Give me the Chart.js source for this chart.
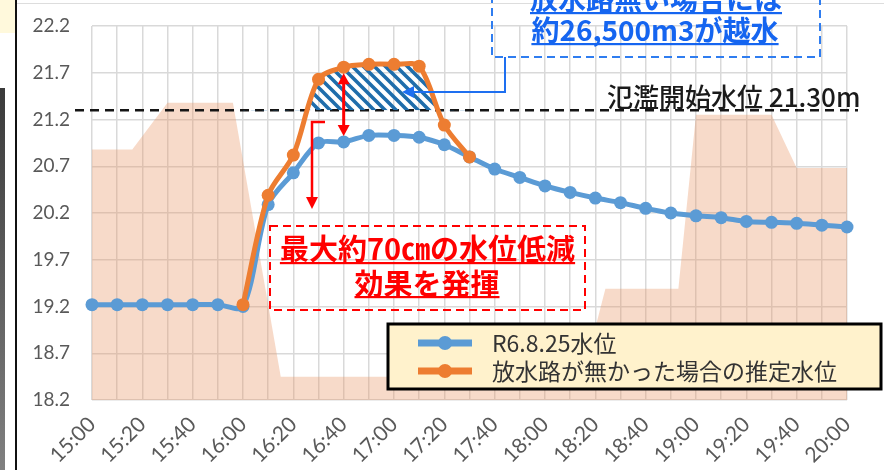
<!DOCTYPE html>
<html><head><meta charset="utf-8">
<script src="https://cdn.jsdelivr.net/npm/chart.js@4.4.1/dist/chart.umd.min.js"></script>
<style>
html,body{margin:0;padding:0;background:#fff;overflow:hidden}
#wrap{position:relative;width:884px;height:470px}
canvas{position:absolute;left:0;top:0}
.deco{position:absolute}
</style></head><body>
<div id="wrap">
<div class="deco" style="left:0;top:0;width:15px;height:33px;background:#FFF9DC"></div>
<div class="deco" style="left:0;top:88px;width:5px;height:382px;background:linear-gradient(#3a3a3a,#808080)"></div>
<div class="deco" style="left:15px;top:0;width:2px;height:470px;background:#111"></div>
<div class="deco" style="left:17px;top:3px;width:867px;height:1px;background:#DDD"></div>
<canvas id="c" width="884" height="470"></canvas>
</div>
<script>
// ---- data ----
const categories = ["15:00","15:10","15:20","15:30","15:40","15:50","16:00","16:10","16:20","16:30","16:40","16:50","17:00","17:10","17:20","17:30","17:40","17:50","18:00","18:10","18:20","18:30","18:40","18:50","19:00","19:10","19:20","19:30","19:40","19:50","20:00"];
const observedLevel = [19.22,19.22,19.22,19.22,19.22,19.22,19.20,20.29,20.63,20.95,20.96,21.03,21.03,21.01,20.93,20.80,20.67,20.58,20.49,20.42,20.36,20.31,20.25,20.20,20.17,20.15,20.11,20.10,20.09,20.07,20.05];
const estimatedLevel = [null,null,null,null,null,null,19.22,20.39,20.82,21.63,21.76,21.79,21.79,21.77,21.14,20.80,null,null,null,null,null,null,null,null,null,null,null,null,null,null,null];
const bgMinutes = [0,16,30,56,75,195,204,233,240,270,280,300];   // minutes after 15:00
const bgValues  = [20.88,20.88,21.38,21.38,18.45,18.45,19.39,19.39,21.25,21.25,20.68,20.68];
const yTicks = [18.2,18.7,19.2,19.7,20.2,20.7,21.2,21.7,22.2];
const floodLevel = 21.30;
const seriesLabels = ["R6.8.25水位","放水路が無かった場合の推定水位"];
const floodText = "氾濫開始水位 21.30m";
const blueNote = ["放水路無い場合には","約26,500m3が越水"];
const redNote = ["最大約70㎝の水位低減","効果を発揮"];

const toMin = s => { const p = s.split(':').map(Number); return p[0]*60 + p[1] - 900; };
const catMin = categories.map(toMin);
const pts = arr => arr.map((v,i)=>({x:catMin[i], y:v}));

const BLUE = '#5B9BD5', ORANGE = '#ED7D31';
const CJK = '"Noto Sans CJK JP", "Noto Sans", sans-serif';

const canvas = document.getElementById('c');
const ctx0 = canvas.getContext('2d');
function makeHatch(){
  const n = 11;
  const t = document.createElement('canvas'); t.width = n; t.height = n;
  const g = t.getContext('2d');
  g.strokeStyle = '#1F6DAB'; g.lineWidth = 3.6;
  g.beginPath();
  for (let k=-n;k<=n;k+=n){ g.moveTo(k-2,-2); g.lineTo(k+n+2,n+2); }
  g.stroke();
  return ctx0.createPattern(t,'repeat');
}
const hatch = makeHatch();

function arrowHead(ctx, x, y, ang, len, wid){
  ctx.beginPath();
  ctx.moveTo(x,y);
  ctx.lineTo(x - len*Math.cos(ang) + wid*Math.sin(ang), y - len*Math.sin(ang) - wid*Math.cos(ang));
  ctx.lineTo(x - len*Math.cos(ang) - wid*Math.sin(ang), y - len*Math.sin(ang) + wid*Math.cos(ang));
  ctx.closePath(); ctx.fill();
}
function ulText(ctx, text, cx, cy, ulY, color){
  ctx.fillStyle = color; ctx.textAlign='center'; ctx.textBaseline='middle';
  ctx.fillText(text, cx, cy);
  const w = ctx.measureText(text).width;
  ctx.fillRect(cx - w/2, ulY - 1, w, 2.2);
}

const decoPlugin = {
  id:'deco',
  afterDatasetDraw(chart, args){
    if (args.index !== 2) return;
    const {ctx, chartArea, scales:{y}} = chart;
    const py = y.getPixelForValue(floodLevel);
    ctx.save();
    ctx.strokeStyle = '#151515'; ctx.lineWidth = 2.5; ctx.setLineDash([9,6]);
    ctx.beginPath(); ctx.moveTo(chartArea.left - 17, py); ctx.lineTo(chartArea.right + 11, py); ctx.stroke();
    ctx.restore();
  },
  afterDraw(chart){
    const {ctx, scales:{x, y}} = chart;
    ctx.save();
    // flood level text
    ctx.font = '500 26px ' + CJK; ctx.fillStyle = '#1a1a1a'; ctx.textAlign='left'; ctx.textBaseline='middle';
    ctx.fillText(floodText, 607, 97);

    // red double arrow at 16:40
    const ax = x.getPixelForValue(catMin[10]);
    const yTop = y.getPixelForValue(estimatedLevel[10]) + 6;
    const yBot = y.getPixelForValue(observedLevel[10]) - 6;
    ctx.strokeStyle = '#FF0000'; ctx.fillStyle = '#FF0000'; ctx.lineWidth = 3;
    ctx.beginPath(); ctx.moveTo(ax, yTop + 8); ctx.lineTo(ax, yBot - 8); ctx.stroke();
    arrowHead(ctx, ax, yTop, -Math.PI/2, 11, 6);
    arrowHead(ctx, ax, yBot, Math.PI/2, 11, 6);
    // red bracket arrow
    ctx.lineWidth = 2.5;
    ctx.beginPath(); ctx.moveTo(325,122); ctx.lineTo(312,122); ctx.lineTo(312,198); ctx.stroke();
    arrowHead(ctx, 312, 209, Math.PI/2, 12, 6);
    // red dashed box
    ctx.lineWidth = 2; ctx.setLineDash([8,5]);
    ctx.strokeRect(270, 226, 315, 84);
    ctx.setLineDash([]);
    ctx.font = 'bold 29px ' + CJK;
    ulText(ctx, redNote[0], 427.5, 249, 263, '#FF0000');
    ulText(ctx, redNote[1], 427, 284, 297, '#FF0000');

    // blue dashed box + connector
    ctx.strokeStyle = '#2F7DF0'; ctx.fillStyle = '#2F7DF0'; ctx.lineWidth = 2; ctx.setLineDash([8,5]);
    ctx.beginPath(); ctx.moveTo(492,-5); ctx.lineTo(492,57); ctx.lineTo(820,57); ctx.lineTo(820,-5); ctx.stroke();
    ctx.setLineDash([]);
    ctx.strokeStyle = '#1E6FF0'; ctx.fillStyle = '#1E6FF0';
    ctx.beginPath(); ctx.moveTo(505,57); ctx.lineTo(505,92); ctx.lineTo(412,92); ctx.stroke();
    arrowHead(ctx, 402, 92, Math.PI, 12, 6);
    ctx.font = 'bold 28px ' + CJK;
    ulText(ctx, blueNote[0], 656, -1, 13, '#1565F0');
    ulText(ctx, blueNote[1], 655, 30, 44, '#1565F0');

    // legend
    ctx.fillStyle = '#FFF2CC'; ctx.fillRect(388, 324, 493, 65);
    ctx.strokeStyle = '#000'; ctx.lineWidth = 3; ctx.strokeRect(388, 324, 493, 65);
    const ds = chart.data.datasets;
    [[1,343],[0,371]].forEach(([di,ly])=>{
      const col = ds[di].borderColor;
      ctx.strokeStyle = col; ctx.fillStyle = col; ctx.lineWidth = 7;
      ctx.beginPath(); ctx.moveTo(418, ly); ctx.lineTo(472, ly); ctx.stroke();
      ctx.beginPath(); ctx.arc(445, ly, 7, 0, Math.PI*2); ctx.fill();
      ctx.font = '23px ' + CJK; ctx.fillStyle = '#333'; ctx.textAlign='left'; ctx.textBaseline='middle';
      ctx.fillText(ds[di].label, 492, ly);
    });
    ctx.restore();
  }
};

new Chart(canvas, {
  type:'line',
  data:{
    datasets:[
      { label: seriesLabels[1], data: pts(estimatedLevel), borderColor: ORANGE, backgroundColor: ORANGE,
        borderWidth: 5, pointRadius: 6.5, pointBackgroundColor: ORANGE, pointBorderColor: ORANGE, pointBorderWidth: 0,
        tension: 0.3, clip: 12,
        fill: { target: { value: floodLevel }, above: hatch, below: 'rgba(0,0,0,0)' } },
      { label: seriesLabels[0], data: pts(observedLevel), borderColor: BLUE, backgroundColor: BLUE,
        borderWidth: 5, pointRadius: 6.5, pointBackgroundColor: BLUE, pointBorderColor: BLUE, pointBorderWidth: 0,
        tension: 0.3, clip: 12, fill: false },
      { label: 'bg', data: bgMinutes.map((t,i)=>({x:t, y:bgValues[i]})), borderWidth: 0, pointRadius: 0,
        backgroundColor: 'rgba(232,150,100,0.35)', borderColor: 'rgba(0,0,0,0)', fill: 'start', tension: 0 }
    ]
  },
  options:{
    responsive:false, animation:false,
    layout:{ padding:{ left:0, right:37, top:26, bottom:0 } },
    plugins:{ legend:{display:false}, tooltip:{enabled:false} },
    scales:{
      x:{ type:'linear', min:0, max:300,
        afterBuildTicks: s => { s.ticks = catMin.map(v=>({value:v})); },
        afterFit: s => { s.height = 70; s.paddingLeft = 0; s.paddingRight = 0; },
        grid:{ color:'#D9D9D9', lineWidth:1.5, drawTicks:false },
        border:{ display:false },
        ticks:{ autoSkip:false, maxRotation:45, minRotation:45, padding:12, color:'#595959',
          font:{ family:'Lato', size:21 },
          callback: v => { const i = catMin.indexOf(v); return (i>=0 && i%2===0) ? categories[i] : ''; } } },
      y:{ min:18.2, max:22.2,
        afterBuildTicks: s => { s.ticks = yTicks.map(v=>({value:v})); },
        afterFit: s => { s.width = 92; s.paddingTop = 0; s.paddingBottom = 0; },
        grid:{ color:'#D9D9D9', lineWidth:1.5, drawTicks:false },
        border:{ display:false },
        ticks:{ padding:22, color:'#595959', font:{ family:'Lato', size:19 }, callback: v => Number(v).toFixed(1) } }
    }
  },
  plugins:[decoPlugin]
});
</script>
</body></html>
